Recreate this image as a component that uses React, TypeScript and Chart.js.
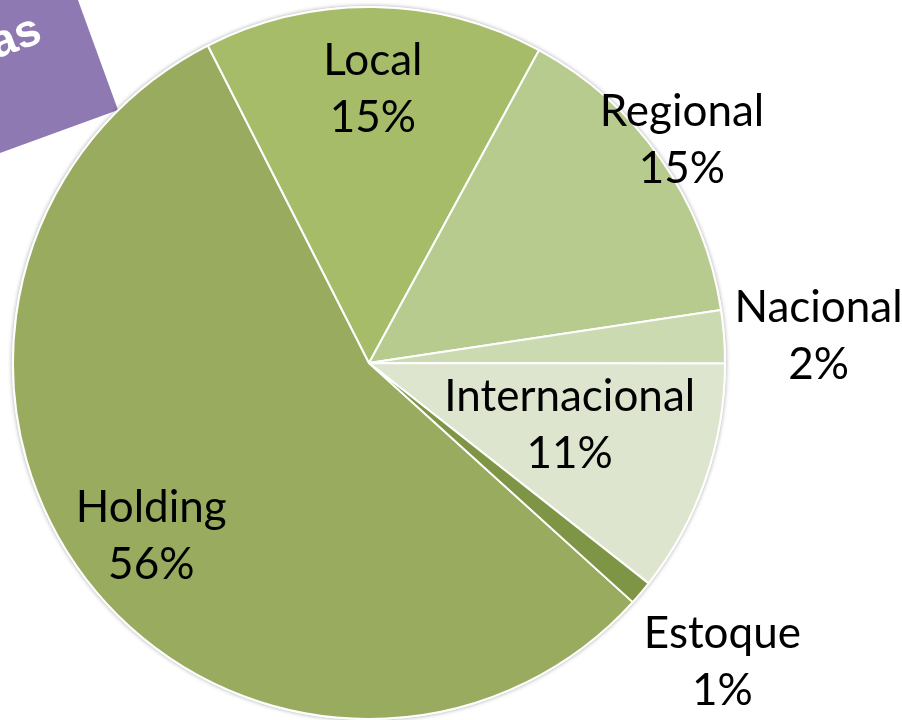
import React, { useEffect, useRef } from "react";
import { Chart, registerables } from "chart.js";

Chart.register(...registerables);

const categories = ["Holding", "Local", "Regional", "Nacional", "Internacional", "Estoque"];
const shares = [55.8, 15.4, 14.7, 2.4, 10.6, 1.1];
const sliceColors = ["#98AB5E", "#A6BC68", "#B8CB8F", "#CCDAB2", "#DEE5CE", "#7E9546"];
// radial position of each data label, as fraction of the pie radius
const labelRadius = [0.78, 0.77, 1.08, 1.265, 0.59, 1.3];
// small angular nudge (degrees) of each data label from the slice middle
const labelAngleShift = [-1, 0, -0.5, 0.8, -2, 0];
const bannerText = "Empresas";

const FONT = "Lato, 'Noto Sans', sans-serif";

const bannerPlugin = {
  id: "banner",
  beforeDraw(chart: any) {
    const ctx = chart.ctx;
    ctx.save();
    ctx.translate(118, 110);
    ctx.rotate((-20 * Math.PI) / 180);
    ctx.fillStyle = "#8F79B2";
    ctx.fillRect(-600, -400, 600, 400);
    ctx.fillStyle = "#FFFFFF";
    ctx.font = "bold 46px 'Liberation Sans', Arial, sans-serif";
    ctx.textAlign = "right";
    ctx.textBaseline = "alphabetic";
    ctx.fillText(bannerText, -46, -90);
    ctx.restore();
  },
};

const shadowPlugin = {
  id: "pieShadow",
  beforeDatasetsDraw(chart: any) {
    const arc = chart.getDatasetMeta(0).data[0];
    if (!arc) return;
    const { x, y, outerRadius } = arc.getProps(["x", "y", "outerRadius"], true);
    const ctx = chart.ctx;
    ctx.save();
    ctx.beginPath();
    ctx.arc(x, y, outerRadius + 1, 0, Math.PI * 2);
    ctx.shadowColor = "rgba(0,0,0,0.35)";
    ctx.shadowBlur = 4;
    ctx.fillStyle = "#FFFFFF";
    ctx.fill();
    ctx.restore();
  },
};

const labelPlugin = {
  id: "pieLabels",
  afterDatasetsDraw(chart: any) {
    const meta = chart.getDatasetMeta(0);
    const data = chart.data.datasets[0].data as number[];
    const total = data.reduce((a, b) => a + b, 0);
    const ctx = chart.ctx;
    ctx.save();
    ctx.font = `44px ${FONT}`;
    ctx.fillStyle = "#000000";
    ctx.textAlign = "center";
    ctx.textBaseline = "middle";
    meta.data.forEach((arc: any, i: number) => {
      const { x, y, startAngle, endAngle, outerRadius } = arc.getProps(
        ["x", "y", "startAngle", "endAngle", "outerRadius"],
        true
      );
      const mid = (startAngle + endAngle) / 2 + (labelAngleShift[i] * Math.PI) / 180;
      const r = outerRadius * labelRadius[i];
      const cx = x + Math.cos(mid) * r;
      const cy = y + Math.sin(mid) * r;
      const pct = Math.round((data[i] / total) * 100) + "%";
      ctx.fillText(chart.data.labels[i], cx, cy - 28);
      ctx.fillText(pct, cx, cy + 29);
    });
    ctx.restore();
  },
};

export default function App() {
  const canvasRef = useRef<HTMLCanvasElement>(null);

  useEffect(() => {
    document.body.style.margin = "0";
    const chart = new Chart(canvasRef.current as HTMLCanvasElement, {
      type: "pie",
      data: {
        labels: categories,
        datasets: [
          {
            data: shares,
            backgroundColor: sliceColors,
            borderColor: "#FFFFFF",
            borderWidth: 2,
          },
        ],
      },
      options: {
        animation: false,
        responsive: true,
        maintainAspectRatio: false,
        rotation: 132.2,
        layout: { padding: { left: 12, top: 6, right: 176, bottom: 0 } },
        plugins: {
          legend: { display: false },
          tooltip: { enabled: false },
        },
      },
      plugins: [bannerPlugin, shadowPlugin, labelPlugin],
    });
    return () => chart.destroy();
  }, []);

  return (
    <div style={{ width: 902, height: 720, position: "relative", background: "#FFFFFF" }}>
      <canvas ref={canvasRef} />
    </div>
  );
}
